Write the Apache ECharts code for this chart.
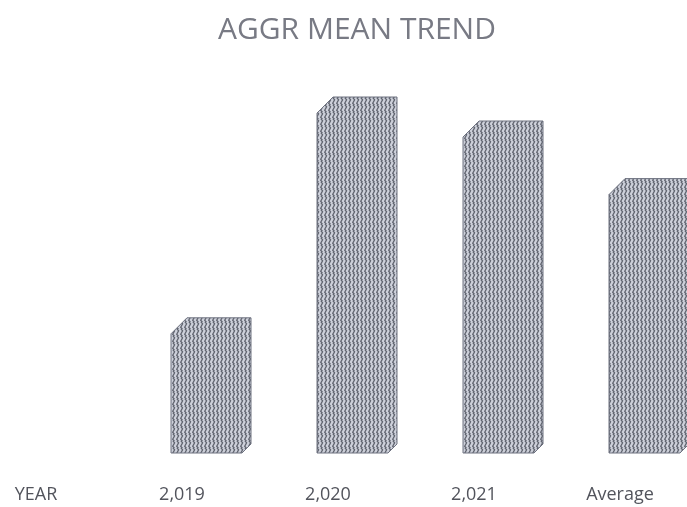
<!DOCTYPE html>
<html>
<head>
<meta charset="utf-8">
<script src="https://cdn.jsdelivr.net/npm/echarts@6/dist/echarts.min.js"></script>
<style>
  html, body { margin: 0; padding: 0; background: #fff; }
  #chart { width: 687px; height: 507px; }
</style>
</head>
<body>
<div id="chart"></div>
<script>
// Category labels along the bottom row (first column is the row header)
const categories = ['YEAR', '2,019', '2,020', '2,021', 'Average'];
// Aggregate mean per year, plus the overall average
const meanValues = [null, 33.8, 89, 83, 68.6];

// Vertical zigzag hatch used to fill the bars
function makeHatch() {
  const c = document.createElement('canvas');
  c.width = 4; c.height = 7;
  const g = c.getContext('2d');
  g.fillStyle = '#cdd0da';
  g.fillRect(0, 0, 4, 7);
  g.strokeStyle = '#60646f';
  g.lineWidth = 1.3;
  g.beginPath();
  g.moveTo(0.7, -0.5);
  g.lineTo(2.6, 1.75);
  g.lineTo(0.7, 5.25);
  g.lineTo(2.6, 7.5);
  g.stroke();
  return c;
}
const hatch = makeHatch();

const chart = echarts.init(document.getElementById('chart'));
chart.setOption({
  backgroundColor: '#ffffff',
  animation: false,
  title: {
    text: 'AGGR MEAN TREND',
    left: 213,
    top: 10,
    textStyle: {
      fontFamily: 'Open Sans',
      fontWeight: 'normal',
      fontSize: 30,
      color: '#787a84'
    }
  },
  grid: {
    left: -37, right: -6, top: 53, bottom: 54,
    outerBoundsMode: 'none',
    containLabel: false
  },
  xAxis: {
    type: 'category',
    data: categories,
    axisLine: { show: false },
    axisTick: { show: false },
    axisLabel: {
      margin: 33,
      fontFamily: 'Open Sans',
      fontSize: 18,
      color: '#52545c'
    }
  },
  yAxis: {
    type: 'value',
    min: 0,
    max: 100,
    show: false,
    splitLine: { show: false }
  },
  series: [{
    type: 'custom',
    clip: false,
    data: meanValues.map((v, i) => [i, v]),
    renderItem: function (params, api) {
      const v = api.value(1);
      if (v == null || isNaN(v)) return null;
      const top = api.coord([api.value(0), v]);
      const base = api.coord([api.value(0), 0]);
      const cx = top[0] + 29;
      const half = 40;
      const l = cx - half, r = cx + half;
      const t = top[1], b = base[1];
      const ct = 16, cb = 9;
      return {
        type: 'polygon',
        shape: {
          points: [
            [l + ct, t], [r, t], [r, b - cb], [r - cb, b], [l, b], [l, t + ct]
          ]
        },
        style: {
          fill: { image: hatch, repeat: 'repeat' },
          stroke: '#6e7280',
          lineWidth: 1
        }
      };
    }
  }]
});
</script>
</body>
</html>
